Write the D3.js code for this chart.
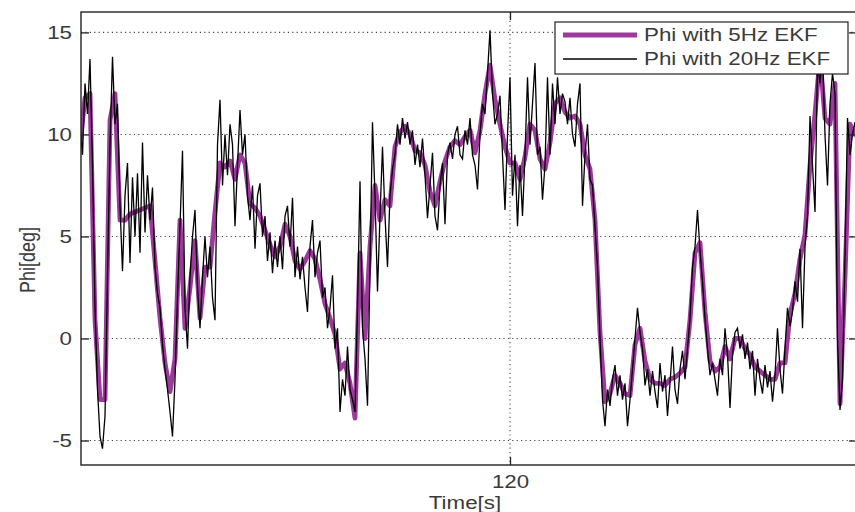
<!DOCTYPE html>
<html><head><meta charset="utf-8">
<script src="https://cdn.jsdelivr.net/npm/d3@7"></script>
<style>
html,body{margin:0;padding:0;background:#fff;}
svg{display:block;font-family:"Liberation Sans",Arial,sans-serif;}
</style></head><body>
<svg id="chart" width="855" height="512"></svg>
<script>
// Roll angle (Phi) estimated by the EKF at two update rates
const phi5HzStart = 102.8, phi5HzStep = 0.2;   // seconds
const phi5Hz = [
  9.5, 11.8, 12.0, 0.9, -3.0, -3.0, 10.7, 12.0, 5.8, 5.8,
  6.1, 6.2, 6.3, 6.4, 6.5, 3.8, 1.0, -1.2, -2.6, -1.0,
  5.8, 0.5, 2.5, 4.8, 1.0, 3.5, 3.5, 6.2, 8.6, 8.4,
  8.7, 7.8, 9.0, 8.6, 6.6, 6.4, 6.0, 5.3, 4.6, 4.0,
  4.5, 5.6, 5.0, 3.8, 3.4, 3.8, 4.3, 3.9, 2.9, 1.7,
  1.0, 0.2, -1.5, -1.2, -2.2, -3.9, 4.2, 0.0, 4.5, 7.5,
  5.8, 6.8, 6.5, 9.4, 10.1, 10.4, 10.0, 9.2, 9.1, 8.5,
  7.2, 6.5, 7.7, 8.7, 9.4, 9.7, 9.5, 9.9, 10.2, 9.1,
  10.2, 12.0, 13.4, 11.7, 10.5, 9.4, 8.6, 8.6, 7.8, 8.9,
  10.5, 10.2, 8.8, 8.3, 9.6, 11.5, 11.8, 11.1, 10.8, 10.9,
  10.5, 9.0, 8.3, 5.8, 0.3, -3.1, -2.7, -1.8, -2.2, -2.7,
  -2.8, -0.3, 0.5, -1.1, -2.0, -2.2, -2.2, -2.3, -2.0, -1.9,
  -1.7, -1.4, 0.9, 4.2, 4.7, 1.3, -1.1, -1.6, -1.4, -0.4,
  -1.0, 0.0, 0.0, -0.5, -0.8, -1.4, -1.6, -1.8, -2.0, -2.0,
  -1.2, -1.2, 1.2, 2.2, 3.9, 5.1, 8.5, 11.0, 13.8, 10.8,
  10.5, 12.5, -3.2, 3.0, 10.5, 10.0, 10.3
];
const phi20HzStart = 102.8, phi20HzStep = 0.1; // seconds
const phi20Hz = [
  10.5, 9.0, 12.5, 11.0, 13.7, 8.5, 1.5, -2.5, -4.8, -5.4,
  -3.8, 3.0, 9.5, 13.8, 10.5, 11.5, 6.5, 3.3, 7.0, 8.6,
  3.7, 7.9, 5.0, 8.1, 4.2, 9.6, 5.2, 8.0, 5.8, 7.4,
  3.5, 2.2, 1.5, -0.3, -1.5, -2.5, -3.6, -4.8, -2.0, 2.0,
  5.5, 9.2, 1.5, -0.5, 3.0, 5.0, 6.3, 2.5, 0.5, 3.0,
  5.0, 3.0, 4.5, 2.0, 0.9, 9.5, 11.7, 7.5, 10.0, 8.0,
  10.5, 9.5, 5.5, 8.5, 11.2, 9.0, 10.0, 7.0, 5.8, 7.5,
  4.4, 7.0, 7.6, 5.0, 6.0, 3.8, 5.2, 3.2, 4.8, 3.5,
  5.0, 3.4, 6.0, 6.5, 4.5, 6.9, 3.0, 4.5, 2.9, 4.0,
  2.5, 1.3, 4.5, 5.8, 3.0, 4.2, 4.8, 2.0, 2.5, 0.5,
  1.5, 3.1, -0.5, 0.5, -3.6, -2.0, -2.8, -0.4, -2.5, -3.0,
  -3.6, 1.5, 7.7, 0.5, -1.0, -3.3, 3.5, 10.6, 7.0, 2.3,
  6.0, 9.4, 6.0, 3.5, 7.0, 8.3, 9.0, 10.5, 9.5, 10.8,
  9.8, 10.6, 9.5, 10.2, 8.5, 9.5, 8.4, 9.8, 8.0, 5.9,
  7.5, 9.1, 6.0, 5.3, 7.5, 8.6, 5.6, 9.0, 9.6, 8.8,
  10.0, 10.4, 9.0, 8.8, 10.2, 9.5, 10.8, 9.0, 8.5, 7.3,
  10.0, 11.5, 11.0, 13.0, 15.1, 12.0, 10.5, 11.0, 11.9, 9.0,
  6.3, 10.0, 12.8, 7.0, 9.0, 5.5, 8.5, 6.0, 9.0, 12.8,
  9.5, 11.5, 13.5, 9.0, 9.4, 6.8, 8.5, 12.8, 9.0, 12.5,
  10.5, 12.8, 11.0, 12.0, 11.6, 10.5, 11.8, 10.0, 9.4, 11.5,
  12.5, 6.5, 9.0, 10.5, 7.8, 7.5, 5.5, 3.5, 0.0, -3.0,
  -4.3, -2.5, -3.3, -2.0, -1.3, -2.8, -1.8, -3.0, -2.2, -4.3,
  -3.0, -1.5, 0.0, 1.5, 0.3, -0.5, -2.3, -1.5, -2.8, -1.6,
  -2.6, -3.4, -1.2, -2.6, -1.8, -3.8, -2.2, -0.4, -2.5, -3.2,
  -1.5, -0.6, -2.0, -0.5, 1.0, 3.5, 4.5, 6.3, 4.3, 2.8,
  1.0, -0.5, -1.8, -1.2, -2.0, -2.8, -1.0, -1.8, 0.5, -0.8,
  -3.4, -0.8, 0.3, 0.5, -0.5, 0.2, -1.0, -0.2, -1.5, -0.6,
  -2.8, -1.0, -2.0, -2.7, -1.3, -2.4, -1.6, -3.1, -1.8, 0.5,
  -1.5, -2.7, -0.5, 1.5, 0.6, 1.3, 2.8, 1.8, 4.4, 0.5,
  4.5, 6.0, 10.9, 8.5, 6.2, 13.5, 12.5, 14.0, 10.0, 7.5,
  11.5, 13.0, 12.0, 0.0, -3.5, -2.0, 4.0, 10.8, 9.0, 10.0,
  10.6, 9.5, 10.5
];
const yTicks = [-5, 0, 5, 10, 15];
const xTicks = [120];
const seriesNames = ["Phi with 5Hz EKF", "Phi with 20Hz EKF"];
const seriesColors = ["#9c3a9c", "#000000"];

const svg = d3.select("#chart");
const plot = { left: 81, right: 857, top: 12, bottom: 465 };
const stretch = 1.24;           // horizontally widened lettering
const textColor = "#3a3a3a";

const x = d3.scaleLinear().domain([102.84, 133.88]).range([plot.left, plot.right]);
const y = d3.scaleLinear().domain([-6.2, 16]).range([plot.bottom, plot.top]);

svg.append("rect").attr("width", 855).attr("height", 512).attr("fill", "#fff");

svg.append("defs").append("clipPath").attr("id", "plotClip")
  .append("rect")
  .attr("x", plot.left).attr("y", plot.top)
  .attr("width", plot.right - plot.left).attr("height", plot.bottom - plot.top);

// dotted grid
const grid = svg.append("g").attr("stroke", "#444").attr("stroke-width", 1.1)
  .attr("stroke-dasharray", "1.2,3.2");
grid.selectAll("line.h").data(yTicks).join("line").attr("class", "h")
  .attr("x1", plot.left).attr("x2", plot.right)
  .attr("y1", d => y(d)).attr("y2", d => y(d));
grid.selectAll("line.v").data(xTicks).join("line").attr("class", "v")
  .attr("x1", d => x(d)).attr("x2", d => x(d))
  .attr("y1", plot.top).attr("y2", plot.bottom);

// series
const pts5 = phi5Hz.map((v, i) => [phi5HzStart + i * phi5HzStep, v]);
const pts20 = phi20Hz.map((v, i) => [phi20HzStart + i * phi20HzStep, v]);
const line = d3.line().x(d => x(d[0])).y(d => y(d[1]));
const lines = svg.append("g").attr("clip-path", "url(#plotClip)");
lines.append("path").datum(pts5).attr("d", line)
  .attr("fill", "none").attr("stroke", seriesColors[0]).attr("stroke-width", 4.8)
  .attr("stroke-linejoin", "round").attr("stroke-linecap", "round");
lines.append("path").datum(pts20).attr("d", line)
  .attr("fill", "none").attr("stroke", seriesColors[1]).attr("stroke-width", 1.3)
  .attr("stroke-linejoin", "miter");

// axes with inward ticks
const plainNumber = d => String(d);
function styleText(sel) {
  sel.attr("font-size", 18).attr("fill", textColor)
    .each(function () {
      const w = this.getComputedTextLength();
      d3.select(this).attr("textLength", w * stretch).attr("lengthAdjust", "spacingAndGlyphs");
    });
}
const yAxis = svg.append("g").attr("transform", `translate(${plot.left},0)`)
  .call(d3.axisLeft(y).tickValues(yTicks).tickFormat(plainNumber).tickSize(-8).tickPadding(9));
const yAxisR = svg.append("g").attr("transform", `translate(${plot.right},0)`)
  .call(d3.axisRight(y).tickValues(yTicks).tickFormat("").tickSize(-8));
const xAxis = svg.append("g").attr("transform", `translate(0,${plot.bottom})`)
  .call(d3.axisBottom(x).tickValues(xTicks).tickFormat(plainNumber).tickSize(-8).tickPadding(8));
const xAxisT = svg.append("g").attr("transform", `translate(0,${plot.top})`)
  .call(d3.axisTop(x).tickValues(xTicks).tickFormat("").tickSize(-8));
[yAxis, yAxisR, xAxis, xAxisT].forEach(a => {
  a.select(".domain").remove();
  a.selectAll(".tick line").attr("stroke", "#222").attr("stroke-width", 1.3);
  a.selectAll(".tick text").call(styleText);
});
xAxis.selectAll(".tick text").attr("dy", "0.85em");

// frame
svg.append("rect")
  .attr("x", plot.left).attr("y", plot.top)
  .attr("width", plot.right - plot.left).attr("height", plot.bottom - plot.top)
  .attr("fill", "none").attr("stroke", "#222").attr("stroke-width", 1.4);

// axis titles
svg.append("text").attr("x", 465).attr("y", 509).attr("text-anchor", "middle")
  .text("Time[s]").call(styleText);
svg.append("text")
  .attr("transform", `translate(35,260) scale(${stretch},1) rotate(-90)`)
  .attr("text-anchor", "middle").attr("font-size", 18).attr("fill", textColor)
  .text("Phi[deg]");

// legend
const legend = svg.append("g");
legend.append("rect").attr("x", 555).attr("y", 22).attr("width", 293).attr("height", 52)
  .attr("fill", "#fff").attr("stroke", "#222").attr("stroke-width", 1.2);
const rowY = [35, 59];
seriesNames.forEach((name, i) => {
  legend.append("line").attr("x1", 563).attr("x2", 637)
    .attr("y1", rowY[i]).attr("y2", rowY[i])
    .attr("stroke", seriesColors[i]).attr("stroke-width", i === 0 ? 4.8 : 1.3);
  legend.append("text").attr("x", 644).attr("y", rowY[i]).attr("dy", "0.35em")
    .text(name).call(styleText);
});
</script>
</body></html>
